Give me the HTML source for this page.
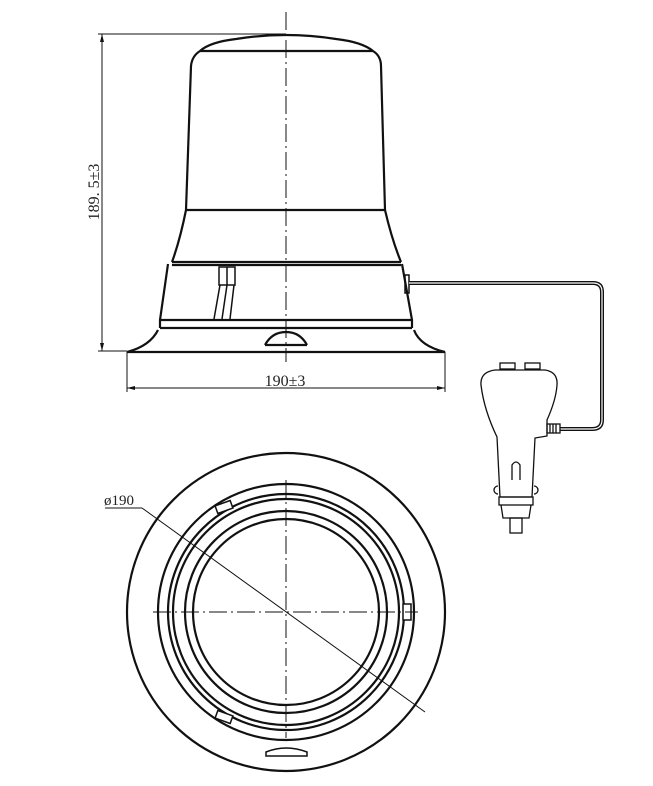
<!DOCTYPE html>
<html><head><meta charset="utf-8"><style>html,body{margin:0;padding:0;background:#fff}svg{display:block}</style></head><body>
<svg width="653" height="786" viewBox="0 0 653 786" xmlns="http://www.w3.org/2000/svg" fill="none" stroke="#111">
<!-- side view -->
<g stroke-width="2.2">
<path d="M200 51 Q210 42 236 39 Q286 31 336 39 Q362 42 373 51"/>
<line x1="200" y1="51" x2="373" y2="51"/>
<path d="M200 51 Q192 56 191 66 L186 210 Q180 240 172 262"/>
<path d="M373 51 Q381 56 381 66 L385 210 Q392 240 401 262"/>
<line x1="186" y1="210" x2="385" y2="210"/>
<line x1="172" y1="262" x2="401" y2="262"/>
<line x1="172" y1="265" x2="401" y2="265"/>
<path d="M168 264 L160 320 L160 328"/>
<path d="M402 264 L412 320 L412 328"/>
<line x1="160" y1="320" x2="412" y2="320"/>
<line x1="160" y1="328" x2="412" y2="328"/>
<path d="M158 330 Q150 346 127 352 L445 352 Q420 346 414 330"/>
<path d="M265 345 Q272 332 286 332 Q300 332 307 345"/>
<line x1="265" y1="345" x2="307" y2="345"/>
</g>
<g stroke-width="1.5">
<rect x="219" y="267" width="16" height="18"/>
<line x1="227" y1="267" x2="227" y2="285"/>
<path d="M220 285 L214 319 M227 285 L222 319 M234 285 L230 319"/>
<rect x="405" y="275" width="4" height="18"/>
</g>
<line x1="286" y1="12" x2="286" y2="362" stroke-width="1" stroke-dasharray="18,4,2,4"/>
<!-- dims -->
<g stroke-width="1">
<line x1="102" y1="34" x2="102" y2="351"/>
<line x1="98" y1="34" x2="286" y2="34"/>
<line x1="98" y1="351" x2="127" y2="351"/>
<line x1="127" y1="352" x2="127" y2="392"/>
<line x1="445" y1="352" x2="445" y2="392"/>
<line x1="127" y1="388" x2="445" y2="388"/>
</g>
<path d="M102 34 l-2 8 h4z M102 351 l-2 -8 h4z M127 388 l8 -2 v4z M445 388 l-8 -2 v4z" fill="#111" stroke="none"/>
<text x="99" y="192" font-family="Liberation Serif, serif" font-size="16" fill="#222" stroke="none" text-anchor="middle" transform="rotate(-90 99 192)">189. 5±3</text>
<text x="285" y="386" font-family="Liberation Serif, serif" font-size="16" fill="#222" stroke="none" text-anchor="middle">190±3</text>
<!-- cable -->
<path d="M409 283 L593 283 Q602 283 602 292 L602 420 Q602 429 592 429 L560 429" stroke-width="4"/>
<path d="M409 283 L593 283 Q602 283 602 292 L602 420 Q602 429 592 429 L560 429" stroke="#fff" stroke-width="1.2"/>
<!-- plug -->
<g stroke-width="1.3">
<rect x="500" y="363" width="15" height="6"/>
<rect x="525" y="363" width="15" height="6"/>
<line x1="495" y1="370" x2="545" y2="370"/>
<path d="M495 370 Q480 372 481 385 Q484 410 497 437 L500 497 L532 497 L535 438 L547 436 L547 420 Q556 400 557 385 Q558 372 545 370"/>
<rect x="547" y="424" width="13" height="9"/>
<path d="M550 424 v9 M553 424 v9 M556 424 v9"/>
<rect x="499" y="497" width="34" height="8"/>
<path d="M501 505 L503 518 L529 518 L531 505"/>
<rect x="510" y="518" width="12" height="15"/>
<path d="M512 480 L512 465 Q516 459 520 465 L520 480"/>
<path d="M498 486 a3 3 0 0 0 0 8 M534 486 a3 3 0 0 1 0 8"/>
</g>
<!-- top view -->
<g stroke-width="2.2">
<circle cx="286" cy="612" r="159"/>
<circle cx="286" cy="612" r="128"/>
<circle cx="286" cy="612" r="118"/>
<circle cx="286" cy="612" r="113"/>
<circle cx="286" cy="612" r="101"/>
<circle cx="286" cy="612" r="93"/>
</g>
<g stroke-width="1.5" fill="#fff">
<rect x="-8" y="-4" width="16" height="8" transform="translate(224 507) rotate(-20)"/>
<rect x="-8" y="-4" width="16" height="8" transform="translate(224 717) rotate(20)"/>
<rect x="-4" y="-8" width="8" height="16" transform="translate(407 612)"/>
<path d="M266 752 Q286 744 307 752 L307 756 L266 756 Z"/>
</g>
<g stroke-width="1" stroke-dasharray="18,4,2,4">
<line x1="286" y1="480" x2="286" y2="738"/>
<line x1="153" y1="612" x2="418" y2="612"/>
</g>
<line x1="105" y1="508" x2="142" y2="508" stroke-width="1"/>
<line x1="142" y1="508" x2="425" y2="712" stroke-width="1"/>
<text x="104" y="505" font-family="Liberation Serif, serif" font-size="15" fill="#222" stroke="none">ø190</text>
</svg>
</body></html>
